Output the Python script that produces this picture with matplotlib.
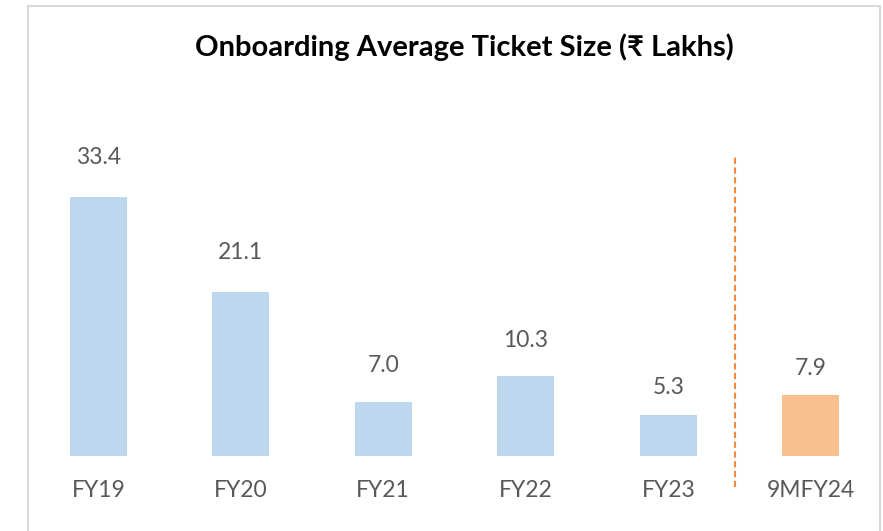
import matplotlib
matplotlib.use('Agg')
import matplotlib.pyplot as plt
from matplotlib.patches import Rectangle

# data
categories = ['FY19', 'FY20', 'FY21', 'FY22', 'FY23', '9MFY24']
values = [33.4, 21.1, 7.0, 10.3, 5.3, 7.9]

blue = '#BDD7EE'
orange = '#F8BF8F'
text_grey = '#595959'
colors = [blue] * 5 + [orange]
# label gap above each bar (points)
label_gap = [28.8, 28.8, 25.9, 25.6, 19.4, 18.7]

plt.rcParams['font.family'] = ['Lato', 'DejaVu Sans']

fig = plt.figure(figsize=(8.83, 5.31), dpi=100)
ax = fig.add_axes([27 / 883, 75 / 531, 855 / 883, 310 / 531])

x = range(len(categories))
ax.bar(x, values, width=0.4, color=colors)

# value labels
for i, v in enumerate(values):
    ax.annotate(f'{v:.1f}', (i, v), xytext=(0, label_gap[i]), textcoords='offset points',
                ha='center', va='center', fontsize=16.5, color=text_grey)

# dashed divider between FY23 and 9MFY24
ax.plot([4.467, 4.467], [-4.0, 38.6], color='#F08A3C', lw=1.5, dashes=(3, 1.7), clip_on=False)

ax.set_xlim(-0.5, 5.5)
ax.set_ylim(0, 40)
ax.set_xticks(list(x))
ax.set_xticklabels(categories, fontsize=16.5, color=text_grey)
plt.setp(ax.get_xticklabels(), va='center')
ax.tick_params(axis='x', length=0, pad=24.5)
ax.set_yticks([])
for s in ax.spines.values():
    s.set_visible(False)
ax.patch.set_visible(False)

# title
fig.text(464 / 883, 1 - 47 / 531, 'Onboarding Average Ticket Size (₹ Lakhs)',
         ha='center', va='center', fontsize=21, fontweight='bold', color='black')

# chart border
fig.patches.append(Rectangle((27.5 / 883, -0.1), (880.5 - 27.5) / 883, 1.1 - 5.5 / 531,
                             transform=fig.transFigure, fill=False, edgecolor='#D9D9D9', lw=1.5))

fig.savefig('out.png', dpi=100)
